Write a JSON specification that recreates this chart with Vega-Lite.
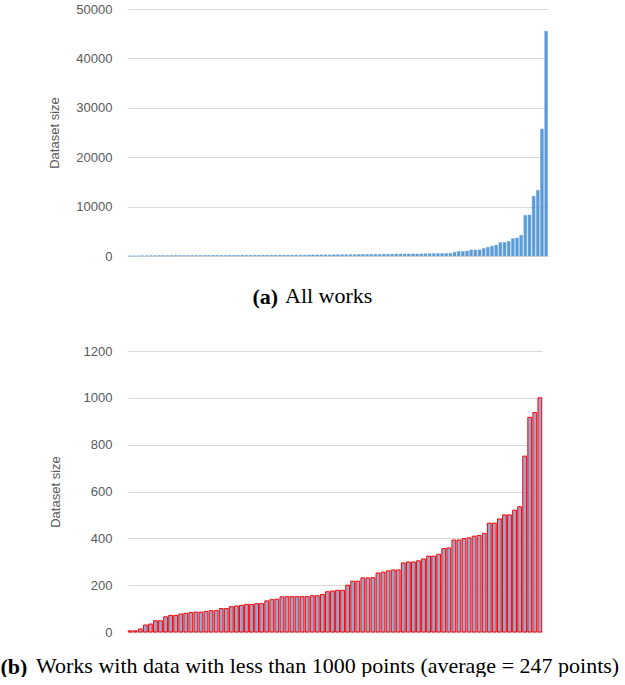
{
  "$schema": "https://vega.github.io/schema/vega-lite/v6.json",
  "padding": {"left": 0, "top": 3, "right": 0, "bottom": 0},
  "background": "white",
  "spacing": 38,
  "config": {
    "view": {"stroke": null},
    "axis": {"labelFont": "Liberation Sans", "labelFontSize": 13, "labelColor": "#595959", "titleFont": "Liberation Sans", "titleFontSize": 13, "titleColor": "#595959", "titleFontWeight": "normal", "gridColor": "#D9D9D9", "gridWidth": 1, "domain": false, "ticks": false, "tickSize": 0},
    "title": {"font": "Liberation Serif", "fontSize": 22, "fontWeight": "normal", "color": "black"}
  },
  "datasets": {
    "all": [
      {"i":1,"size":5},{"i":2,"size":5},{"i":3,"size":13},{"i":4,"size":30},{"i":5,"size":34},{"i":6,"size":48},{"i":7,"size":48},{"i":8,"size":65},{"i":9,"size":71},{"i":10,"size":71},
      {"i":11,"size":77},{"i":12,"size":80},{"i":13,"size":83},{"i":14,"size":85},{"i":15,"size":85},{"i":16,"size":88},{"i":17,"size":91},{"i":18,"size":91},{"i":19,"size":100},{"i":20,"size":100},
      {"i":21,"size":108},{"i":22,"size":111},{"i":23,"size":114},{"i":24,"size":118},{"i":25,"size":118},{"i":26,"size":121},{"i":27,"size":121},{"i":28,"size":133},{"i":29,"size":138},{"i":30,"size":140},
      {"i":31,"size":150},{"i":32,"size":151},{"i":33,"size":151},{"i":34,"size":151},{"i":35,"size":151},{"i":36,"size":151},{"i":37,"size":155},{"i":38,"size":155},{"i":39,"size":160},{"i":40,"size":172},
      {"i":41,"size":175},{"i":42,"size":178},{"i":43,"size":178},{"i":44,"size":200},{"i":45,"size":217},{"i":46,"size":217},{"i":47,"size":231},{"i":48,"size":231},{"i":49,"size":232},{"i":50,"size":252},
      {"i":51,"size":255},{"i":52,"size":261},{"i":53,"size":265},{"i":54,"size":265},{"i":55,"size":295},{"i":56,"size":299},{"i":57,"size":299},{"i":58,"size":304},{"i":59,"size":312},{"i":60,"size":324},
      {"i":61,"size":324},{"i":62,"size":332},{"i":63,"size":356},{"i":64,"size":359},{"i":65,"size":393},{"i":66,"size":393},{"i":67,"size":399},{"i":68,"size":402},{"i":69,"size":409},{"i":70,"size":412},
      {"i":71,"size":421},{"i":72,"size":465},{"i":73,"size":465},{"i":74,"size":483},{"i":75,"size":500},{"i":76,"size":500},{"i":77,"size":520},{"i":78,"size":535},{"i":79,"size":751},{"i":80,"size":917},
      {"i":81,"size":937},{"i":82,"size":1000},{"i":83,"size":1216},{"i":84,"size":1216},{"i":85,"size":1250},{"i":86,"size":1550},{"i":87,"size":1757},{"i":88,"size":2000},{"i":89,"size":2200},{"i":90,"size":2730},
      {"i":91,"size":2730},{"i":92,"size":2970},{"i":93,"size":3510},{"i":94,"size":3650},{"i":95,"size":4190},{"i":96,"size":8240},{"i":97,"size":8300},{"i":98,"size":12100},{"i":99,"size":13300},{"i":100,"size":25700},
      {"i":101,"size":45500}
    ],
    "small": [
      {"i":1,"size":5},{"i":2,"size":5},{"i":3,"size":13},{"i":4,"size":30},{"i":5,"size":34},{"i":6,"size":48},{"i":7,"size":48},{"i":8,"size":65},{"i":9,"size":71},{"i":10,"size":71},
      {"i":11,"size":77},{"i":12,"size":80},{"i":13,"size":83},{"i":14,"size":85},{"i":15,"size":85},{"i":16,"size":88},{"i":17,"size":91},{"i":18,"size":91},{"i":19,"size":100},{"i":20,"size":100},
      {"i":21,"size":108},{"i":22,"size":111},{"i":23,"size":114},{"i":24,"size":118},{"i":25,"size":118},{"i":26,"size":121},{"i":27,"size":121},{"i":28,"size":133},{"i":29,"size":138},{"i":30,"size":140},
      {"i":31,"size":150},{"i":32,"size":151},{"i":33,"size":151},{"i":34,"size":151},{"i":35,"size":151},{"i":36,"size":151},{"i":37,"size":155},{"i":38,"size":155},{"i":39,"size":160},{"i":40,"size":172},
      {"i":41,"size":175},{"i":42,"size":178},{"i":43,"size":178},{"i":44,"size":200},{"i":45,"size":217},{"i":46,"size":217},{"i":47,"size":231},{"i":48,"size":231},{"i":49,"size":232},{"i":50,"size":252},
      {"i":51,"size":255},{"i":52,"size":261},{"i":53,"size":265},{"i":54,"size":265},{"i":55,"size":295},{"i":56,"size":299},{"i":57,"size":299},{"i":58,"size":304},{"i":59,"size":312},{"i":60,"size":324},
      {"i":61,"size":324},{"i":62,"size":332},{"i":63,"size":356},{"i":64,"size":359},{"i":65,"size":393},{"i":66,"size":393},{"i":67,"size":399},{"i":68,"size":402},{"i":69,"size":409},{"i":70,"size":412},
      {"i":71,"size":421},{"i":72,"size":465},{"i":73,"size":465},{"i":74,"size":483},{"i":75,"size":500},{"i":76,"size":500},{"i":77,"size":520},{"i":78,"size":535},{"i":79,"size":751},{"i":80,"size":917},
      {"i":81,"size":937},{"i":82,"size":1000}
    ]
  },
  "vconcat": [
    {
      "width": 420,
      "height": 247,
      "data": {"name": "all"},
      "title": {"text": "All works", "orient": "bottom", "anchor": "start", "frame": "group", "dx": 157, "offset": -11, "baseline": "middle"},
      "mark": {"type": "bar", "color": "#5B9BD5", "stroke": "#6FA6DB", "strokeWidth": 0.5},
      "encoding": {
        "x": {"field": "i", "type": "ordinal", "scale": {"paddingInner": 0.3, "paddingOuter": 0.1},
          "axis": {"labels": false, "grid": false, "title": "(a)", "titleFont": "Liberation Serif", "titleFontSize": 22, "titleFontWeight": "bold", "titleColor": "black", "titleX": 124, "titleY": 40, "titleAlign": "left", "titleBaseline": "middle", "titleAngle": 0}},
        "y": {"field": "size", "type": "quantitative", "scale": {"domain": [0, 50000]},
          "axis": {"values": [0, 10000, 20000, 30000, 40000, 50000], "format": "d", "title": "Dataset size", "labelPadding": 16, "titlePadding": 14}}
      }
    },
    {
      "width": 414,
      "height": 281,
      "data": {"name": "small"},
      "title": {"text": "Works with data with less than 1000 points (average = 247 points)", "orient": "bottom", "anchor": "start", "frame": "group", "dx": -92, "offset": -11, "baseline": "middle"},
      "mark": {"type": "bar", "color": "#9BA5C9", "stroke": "#FF0000", "strokeWidth": 1},
      "encoding": {
        "x": {"field": "i", "type": "ordinal", "scale": {"paddingInner": 0.25, "paddingOuter": 0.05},
          "axis": {"labels": false, "grid": false, "title": "(b)", "titleFont": "Liberation Serif", "titleFontSize": 22, "titleFontWeight": "bold", "titleColor": "black", "titleX": -128, "titleY": 34, "titleAlign": "left", "titleBaseline": "middle", "titleAngle": 0}},
        "y": {"field": "size", "type": "quantitative", "scale": {"domain": [0, 1200]},
          "axis": {"values": [0, 200, 400, 600, 800, 1000, 1200], "format": "d", "title": "Dataset size", "labelPadding": 16, "titlePadding": 21}}
      }
    }
  ]
}
